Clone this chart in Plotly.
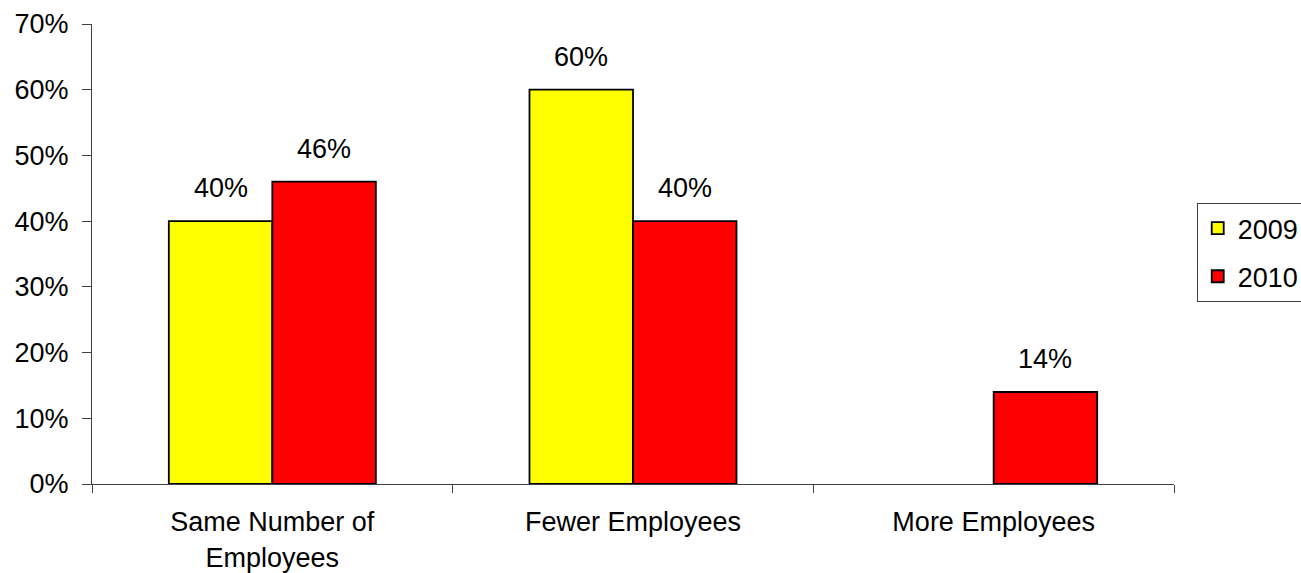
import plotly.graph_objects as go

categories = ["Same Number of<br>Employees", "Fewer Employees", "More Employees"]
cat_keys = ["Same", "Fewer", "More"]
series_names = ["2009", "2010"]
values_2009 = [40, 60, 0]
values_2010 = [46, 40, 14]
colors = ["#FFFF00", "#FF0000"]
y_ticks = [0, 10, 20, 30, 40, 50, 60, 70]
y_ticklabels = [f"{v}%" for v in y_ticks]

FONT = "Liberation Sans, Arial, sans-serif"
FS = 27

fig = go.Figure()
for name, vals, col in zip(series_names, [values_2009, values_2010], colors):
    fig.add_trace(go.Bar(
        name=name, x=cat_keys, y=vals,
        marker=dict(color=col,
                    line=dict(color="#000000", width=[1.8 if v else 0 for v in vals])),
        legendgroup=name,
    ))

# value labels above bars
for offs, vals in zip([-51.75, 51.75], [values_2009, values_2010]):
    for k, v in zip(cat_keys, vals):
        if v == 0:
            continue
        fig.add_annotation(x=k, y=v, xref="x", yref="y", text=f"{v}%",
                           showarrow=False, xshift=offs, yanchor="bottom", yshift=16,
                           font=dict(family=FONT, size=FS, color="#000000"))

fig.update_layout(
    width=1301, height=573,
    margin=dict(l=92, r=127, t=24, b=89, autoexpand=False),
    paper_bgcolor="white", plot_bgcolor="white",
    barmode="group", bargap=0.426, bargroupgap=0,
    font=dict(family=FONT, size=FS, color="#000000"),
    legend=dict(x=1.021, y=0.503, xanchor="left", yanchor="middle",
                bordercolor="#404040", borderwidth=1, tracegroupgap=10,
                font=dict(family=FONT, size=FS, color="#000000")),
    xaxis=dict(tickmode="array", tickvals=cat_keys, ticktext=categories,
               tickson="boundaries", ticks="outside", ticklen=8, tickcolor="#404040",
               ticklabelstandoff=14,
               showline=True, linecolor="#404040", linewidth=1,
               showgrid=False, zeroline=False, range=[-0.5, 2.5]),
    yaxis=dict(range=[0, 70], tickvals=y_ticks, ticktext=y_ticklabels,
               ticks="outside", ticklen=9, tickcolor="#404040",
               ticklabelstandoff=8,
               showline=True, linecolor="#404040", linewidth=1,
               showgrid=False, zeroline=False),
)

fig.write_html("out.html")
